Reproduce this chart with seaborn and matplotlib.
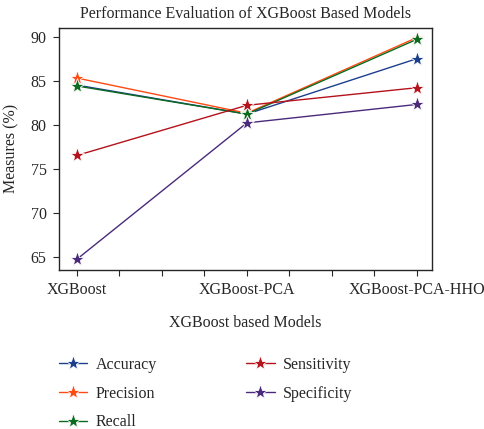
import numpy as np
import pandas as pd
import matplotlib
matplotlib.use("Agg")
import matplotlib.pyplot as plt
import seaborn as sns

models = ["XGBoost", "XGBoost-PCA", "XGBoost-PCA-HHO"]
accuracy = [84.5, 81.2, 87.5]
precision = [85.3, 81.3, 89.9]
recall = [84.4, 81.2, 89.7]
sensitivity = [76.5, 82.2, 84.2]
specificity = [64.7, 80.2, 82.3]

series = {
    "Accuracy": accuracy,
    "Precision": precision,
    "Recall": recall,
    "Sensitivity": sensitivity,
    "Specificity": specificity,
}
colors = ["#1c3f8c", "#ff4a12", "#0b6b1f", "#b5121b", "#4a2a7a"]

rows = []
for name, vals in series.items():
    for i, v in enumerate(vals):
        rows.append({"pos": i, "measure": name, "value": v})
df = pd.DataFrame(rows)

sns.set_style("ticks")
plt.rcParams["font.family"] = ["Liberation Serif", "DejaVu Serif"]

fig = plt.figure(figsize=(4.85, 4.29), dpi=100)
ax = fig.add_axes([0.122, 0.371, 0.769, 0.564])

sns.lineplot(data=df, x="pos", y="value", hue="measure", palette=colors,
             marker="*", markersize=11, markeredgewidth=0.6, linewidth=1.0,
             ax=ax, legend=True)

fs = 11.5
ax.set_xlim(-0.104, 2.09)
ax.set_ylim(63.5, 91.0)
ticks = np.arange(0, 2.01, 0.25)
ax.set_xticks(ticks)
ax.set_xticklabels([models[int(t)] if t == int(t) else "" for t in ticks])
ax.set_yticks([65, 70, 75, 80, 85, 90])
ax.tick_params(labelsize=fs, direction="out", length=4, width=0.8, pad=5)
for s in ax.spines.values():
    s.set_visible(True)
    s.set_linewidth(1.0)

ax.set_xlabel("XGBoost based Models", fontsize=fs, labelpad=12)
ax.set_ylabel("Measures (%)", fontsize=fs, labelpad=8)
ax.set_title("Performance Evaluation of XGBoost Based Models", fontsize=fs, pad=7)

handles, labels = ax.get_legend_handles_labels()
ax.legend(handles, labels, loc="upper left", bbox_to_anchor=(-0.04, -0.30),
          ncol=2, frameon=False, fontsize=fs, columnspacing=5.6,
          handlelength=1.8, handletextpad=0.5, labelspacing=0.8)

fig.savefig("out.png", dpi=100)
